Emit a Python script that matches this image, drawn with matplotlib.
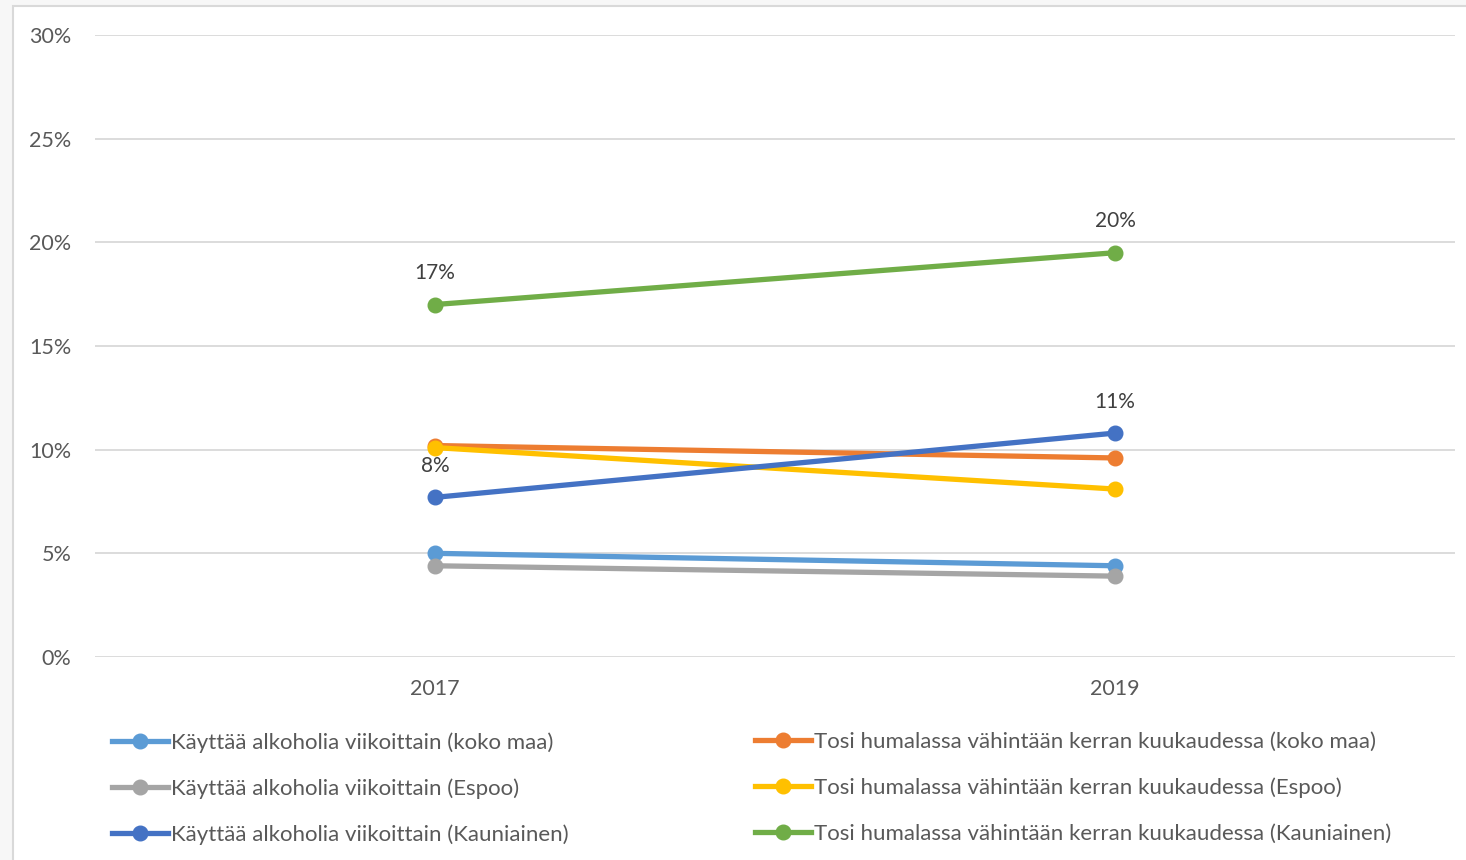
import matplotlib.pyplot as plt
import matplotlib.patches as patches
from matplotlib.lines import Line2D
from matplotlib.ticker import FuncFormatter

plt.rcParams['font.family'] = ['Lato', 'DejaVu Sans']

years = ['2017', '2019']
weekly_koko_maa = [5.0, 4.4]
drunk_koko_maa = [10.2, 9.6]
weekly_espoo = [4.4, 3.9]
drunk_espoo = [10.1, 8.1]
weekly_kauniainen = [7.7, 10.8]
drunk_kauniainen = [17.0, 19.5]

names = [
    'Käyttää alkoholia viikoittain (koko maa)',
    'Tosi humalassa vähintään kerran kuukaudessa (koko maa)',
    'Käyttää alkoholia viikoittain (Espoo)',
    'Tosi humalassa vähintään kerran kuukaudessa (Espoo)',
    'Käyttää alkoholia viikoittain (Kauniainen)',
    'Tosi humalassa vähintään kerran kuukaudessa (Kauniainen)',
]
series = [weekly_koko_maa, drunk_koko_maa, weekly_espoo, drunk_espoo,
          weekly_kauniainen, drunk_kauniainen]
colors = ['#5B9BD5', '#ED7D31', '#A5A5A5', '#FFC000', '#4472C4', '#70AD47']
# which series get data labels
labelled = [4, 5]

fig = plt.figure(figsize=(14.66, 8.6), dpi=100)
fig.patch.set_facecolor('#F7F7F7')
# white chart area with thin border
fig.patches.append(patches.Rectangle((13 / 1466, -0.01), 1.0, (860 - 6) / 860 + 0.01,
                                     transform=fig.transFigure, facecolor='white',
                                     edgecolor='#D9D9D9', linewidth=1.5, zorder=-5))

ax = fig.add_axes([95 / 1466, 203 / 860, 1360 / 1466, 622 / 860])
ax.set_facecolor('none')
x = list(range(len(years)))

handles = []
for i, (vals, c) in enumerate(zip(series, colors)):
    ln, = ax.plot(x, vals, color=c, lw=3.8, marker='o', ms=10.5, solid_capstyle='round',
                  zorder=3 + i)
    handles.append(ln)
    if i in labelled:
        for xi, v in zip(x, vals):
            ax.annotate(f'{v:.0f}%', (xi, v), xytext=(0, 15.5), textcoords='offset points',
                        ha='center', va='bottom', fontsize=15, color='#404040')

ax.set_xlim(-0.5, len(years) - 0.5)
ax.set_ylim(0, 30)
ax.set_yticks(range(0, 31, 5))
ax.yaxis.set_major_formatter(FuncFormatter(lambda v, p: f'{v:.0f}%'))
ax.set_xticks(x)
ax.set_xticklabels(years)
ax.tick_params(axis='both', length=0, labelsize=15.5, colors='#595959')
ax.tick_params(axis='x', pad=16)
ax.tick_params(axis='y', pad=17)
ax.grid(axis='y', color='#D9D9D9', lw=1.3)
ax.set_axisbelow(True)
for s in ax.spines.values():
    s.set_visible(False)

def make_legend(idx, xpos):
    hs = [Line2D([], [], color=colors[i], lw=3.8, marker='o', ms=10.5) for i in idx]
    lg = fig.legend(hs, [names[i] for i in idx], loc='upper left',
                    bbox_to_anchor=(xpos / 1466, 1 - 732 / 860), frameon=False,
                    fontsize=16, handlelength=2.5, handletextpad=0.15,
                    labelspacing=1.15, borderaxespad=0, borderpad=0)
    for t in lg.get_texts():
        t.set_color('#595959')
    return lg

make_legend([0, 2, 4], 112)
make_legend([1, 3, 5], 755)

fig.savefig('out.png', dpi=100, facecolor=fig.get_facecolor())
